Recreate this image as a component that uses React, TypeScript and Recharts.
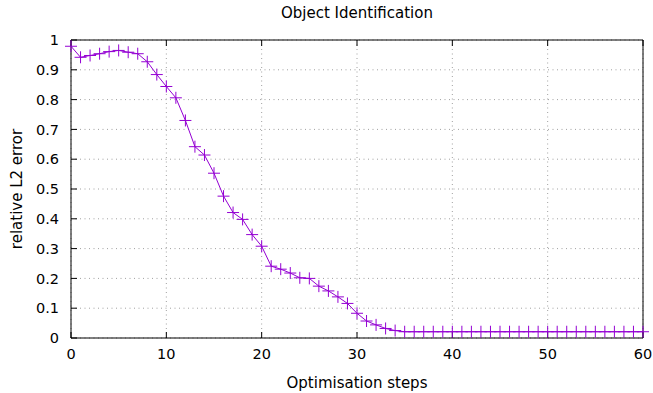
import { CartesianGrid, Line, LineChart, XAxis, YAxis } from "recharts";

const STEPS = [
  0, 1, 2, 3, 4, 5, 6, 7, 8, 9, 10, 11, 12, 13, 14, 15, 16, 17, 18, 19, 20,
  21, 22, 23, 24, 25, 26, 27, 28, 29, 30, 31, 32, 33, 34, 35, 36, 37, 38, 39, 40,
  41, 42, 43, 44, 45, 46, 47, 48, 49, 50, 51, 52, 53, 54, 55, 56, 57, 58, 59, 60,
];

const L2_ERROR = [
  0.979, 0.942, 0.948, 0.954, 0.961, 0.965, 0.959, 0.954, 0.927, 0.884, 0.844,
  0.806, 0.73, 0.642, 0.614, 0.553, 0.476, 0.421, 0.398, 0.347, 0.308,
  0.241, 0.231, 0.218, 0.202, 0.2, 0.174, 0.158, 0.138, 0.116, 0.083,
  0.057, 0.044, 0.032, 0.025, 0.021, 0.021, 0.021, 0.021, 0.021, 0.021,
  0.021, 0.021, 0.021, 0.021, 0.021, 0.021, 0.021, 0.021, 0.021, 0.021,
  0.021, 0.021, 0.021, 0.021, 0.021, 0.021, 0.021, 0.021, 0.021, 0.021,
];

const X_TICKS = [0, 10, 20, 30, 40, 50, 60];
const Y_TICKS = [0, 0.1, 0.2, 0.3, 0.4, 0.5, 0.6, 0.7, 0.8, 0.9, 1];

const data = STEPS.map((s, i) => ({ step: s, err: L2_ERROR[i] }));

const FONT = "'DejaVu Sans', sans-serif";
const PURPLE = "#9400d3";
const tickStyle = { fill: "#000", fontSize: 14.5, fontFamily: FONT };

function PlusDot(props: any) {
  const { cx, cy, index } = props;
  if (cx == null || cy == null) return <g key={index} />;
  const r = 6;
  return (
    <path
      key={index}
      d={`M${cx - r},${cy}H${cx + r}M${cx},${cy - r}V${cy + r}`}
      stroke={PURPLE}
      strokeWidth={1}
      fill="none"
    />
  );
}

export default function App() {
  return (
    <div style={{ position: "relative", width: 653, height: 393, background: "#fff" }}>
      <style>{`body{margin:0}`}</style>
      <div
        style={{
          position: "absolute",
          top: 4,
          left: 71,
          width: 572,
          textAlign: "center",
          fontFamily: FONT,
          fontSize: 15,
          color: "#000",
        }}
      >
        Object Identification
      </div>
      <LineChart
        width={653}
        height={393}
        data={data}
        margin={{ top: 0, right: 0, bottom: 0, left: 0 }}
      >
        <CartesianGrid stroke="#a0a0a0" strokeDasharray="1 3.5" />
        <XAxis
          dataKey="step"
          type="number"
          domain={[0, 60]}
          ticks={X_TICKS}
          height={55}
          tickSize={-6}
          tickMargin={17}
          stroke="#000"
          tick={tickStyle}
          interval={0}
          label={{
            content: (p: any) => {
              const vb = p.viewBox;
              return (
                <text
                  x={vb.x + vb.width / 2}
                  y={388}
                  textAnchor="middle"
                  fontFamily={FONT}
                  fontSize={15}
                  fill="#000"
                >
                  Optimisation steps
                </text>
              );
            },
          }}
        />
        <XAxis
          xAxisId="top"
          orientation="top"
          type="number"
          domain={[0, 60]}
          ticks={X_TICKS}
          height={40}
          tickSize={-6}
          stroke="#000"
          tickFormatter={() => ""}
          interval={0}
        />
        <YAxis
          type="number"
          domain={[0, 1]}
          ticks={Y_TICKS}
          width={71}
          tickSize={-6}
          tickMargin={18}
          stroke="#000"
          tick={tickStyle}
          interval={0}
          label={{
            content: (p: any) => {
              const vb = p.viewBox;
              const cy = vb.y + vb.height / 2;
              return (
                <text
                  x={22}
                  y={cy}
                  transform={`rotate(-90 22 ${cy})`}
                  textAnchor="middle"
                  fontFamily={FONT}
                  fontSize={15}
                  fill="#000"
                >
                  relative L2 error
                </text>
              );
            },
          }}
        />
        <YAxis
          yAxisId="right"
          orientation="right"
          type="number"
          domain={[0, 1]}
          ticks={Y_TICKS}
          width={10}
          tickSize={-6}
          stroke="#000"
          tickFormatter={() => ""}
          interval={0}
        />
        <Line
          dataKey="err"
          type="linear"
          stroke={PURPLE}
          strokeWidth={1}
          dot={PlusDot}
          activeDot={false}
          isAnimationActive={false}
        />
      </LineChart>
    </div>
  );
}
